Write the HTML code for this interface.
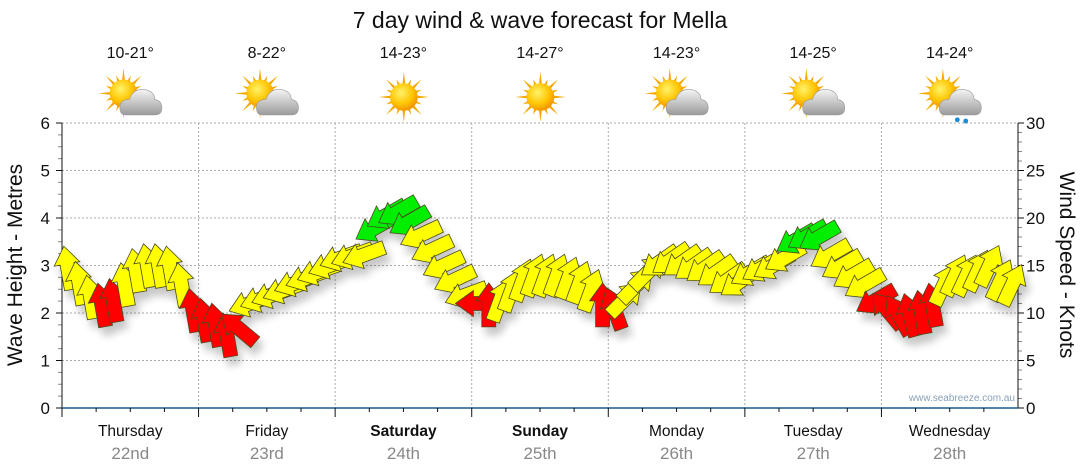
<!DOCTYPE html>
<html><head><meta charset="utf-8"><style>
body{margin:0;background:#fff;}
svg{display:block;font-family:"Liberation Sans",sans-serif;}
</style></head><body>
<svg id="c" width="1080" height="475" viewBox="0 0 1080 475">
<defs>
<filter id="sh" x="-50%" y="-50%" width="200%" height="200%"><feGaussianBlur in="SourceAlpha" stdDeviation="4"/><feOffset dx="4" dy="8"/><feComponentTransfer><feFuncA type="linear" slope="0.22"/></feComponentTransfer><feMerge><feMergeNode/><feMergeNode in="SourceGraphic"/></feMerge></filter>
<radialGradient id="sun" cx="0.4" cy="0.35" r="0.7"><stop offset="0" stop-color="#fff36a"/><stop offset="0.6" stop-color="#ffc400"/><stop offset="1" stop-color="#f08a00"/></radialGradient>
<linearGradient id="cloud" x1="0" y1="0" x2="0" y2="1"><stop offset="0" stop-color="#f4f4f4"/><stop offset="1" stop-color="#9a9a9a"/></linearGradient>
</defs>
<text x="540" y="28" text-anchor="middle" font-size="23" fill="#111">7 day wind &amp; wave forecast for Mella</text>
<g id="grid"></g>
<g id="axes"></g>
<g id="wx"></g>
<g id="marks" filter="url(#sh)"></g>
<text x="1015" y="401" text-anchor="end" font-size="10" fill="#8aa0b8">www.seabreeze.com.au</text>
<text transform="translate(22,265) rotate(-90)" text-anchor="middle" font-size="21" fill="#111">Wave Height - Metres</text>
<text transform="translate(1060,265) rotate(90)" text-anchor="middle" font-size="21" fill="#111">Wind Speed - Knots</text>
</svg>
<script>
const days=["Thursday","Friday","Saturday","Sunday","Monday","Tuesday","Wednesday"];
const dates=["22nd","23rd","24th","25th","26th","27th","28th"];
const temps=["10-21°","8-22°","14-23°","14-27°","14-23°","14-25°","14-24°"];
const icons=["suncloud","suncloud","sun","sun","suncloud","suncloud","rain"];
const waveTicks=[0,1,2,3,4,5,6];
const windTicks=[0,5,10,15,20,25,30];
// 2-hourly wave heights (m)
const heights=[2.95,2.63,2.34,2.17,2.27,2.6,2.9,3.0,3.0,2.95,2.6,2.06,
1.85,1.75,1.54,1.68,2.2,2.3,2.38,2.48,2.63,2.74,2.86,3.0,
3.16,3.2,3.22,3.79,4.06,4.13,3.92,3.64,3.33,3.0,2.7,2.38,
2.2,2.17,2.27,2.48,2.7,2.8,2.8,2.8,2.74,2.65,2.48,2.17,
2.1,2.3,2.59,2.86,3.07,3.12,3.07,3.0,2.95,2.86,2.7,2.65,
2.86,2.95,3.0,3.16,3.54,3.62,3.6,3.22,3.0,2.8,2.6,2.27,
2.06,1.96,1.96,2.02,2.17,2.6,2.8,2.8,2.9,3.0,2.7,2.6];
// arrow direction (deg, 0 = pointing up)
const dirs=[350,350,350,350,350,350,350,350,350,350,350,350,
350,350,350,310,250,250,250,250,250,250,250,250,
250,250,250,240,240,240,240,245,245,245,245,250,
270,0,20,20,20,20,20,20,20,20,20,0,
340,45,45,45,235,235,235,235,235,235,235,235,
240,240,240,240,240,240,240,240,240,240,240,240,
320,330,345,350,350,25,25,25,25,25,25,25];
// colour class: Y yellow, R red, G green
const colours="YYYRRYYYYYYR"+"RRRRYYYYYYYY"+"YYYGGGGYYYYY"+"RRYYYYYYYYYR"+"RYYYYYYYYYYY"+"YYYYGGGYYYYR"+"RRRRRYYYYYYY";
const X0=62,X1=1018,Y0=408,Y1=123,DAY=(X1-X0)/7;
const xs=i=>X0+DAY/24+i*DAY/12;
const ys=h=>Y0-(h/6)*(Y0-Y1);
const yw=k=>Y0-(k/30)*(Y0-Y1);
const NS="http://www.w3.org/2000/svg";
function mk(t,a,p){const e=document.createElementNS(NS,t);for(const k in a)e.setAttribute(k,a[k]);(p||document.getElementById('c')).appendChild(e);return e;}
const grid=document.getElementById('grid'),axes=document.getElementById('axes'),wx=document.getElementById('wx'),marks=document.getElementById('marks');
waveTicks.forEach(v=>{
 if(v>0){const g=mk('line',{x1:X0,x2:X1,y1:ys(v),y2:ys(v),stroke:'#aaa','stroke-dasharray':'2,2'},grid);
 
 }
 const t=mk('text',{x:50,y:ys(v)+6,'text-anchor':'end','font-size':17,fill:'#111'},axes);t.textContent=v;
 
 
 mk('line',{x1:X0-6,x2:X0,y1:ys(v),y2:ys(v),stroke:'#111'},axes);
});
for(let q=0;q<24;q++){if(q%4)mk('line',{x1:X0-4,x2:X0,y1:ys(q/4),y2:ys(q/4),stroke:'#888'},axes);}
windTicks.forEach(v=>{
 const t=mk('text',{x:1026,y:yw(v)+6,'font-size':17,fill:'#111'},axes);t.textContent=v;
 
 
 mk('line',{x1:X1,x2:X1+6,y1:yw(v),y2:yw(v),stroke:'#111'},axes);
});
for(let q=0;q<30;q++){if(q%5)mk('line',{x1:X1,x2:X1+4,y1:yw(q),y2:yw(q),stroke:'#888'},axes);}
mk('line',{x1:X0,x2:X0,y1:Y1,y2:Y0,stroke:'#111'},axes);
mk('line',{x1:X1,x2:X1,y1:Y1,y2:Y0,stroke:'#111'},axes);
mk('line',{x1:X0,x2:X1,y1:Y0,y2:Y0,stroke:'#1a5a8a','stroke-width':1.5},axes);
days.forEach((d,i)=>{
 const xb=X0+i*DAY,xc=xb+DAY/2;
 if(i>0)mk('line',{x1:xb,x2:xb,y1:Y1,y2:Y0,stroke:'#aaa','stroke-dasharray':'2,2'},grid);
 mk('line',{x1:xb,x2:xb,y1:Y0,y2:Y0+9,stroke:'#111'},axes);
 for(let k=1;k<4;k++)mk('line',{x1:xb+k*DAY/4,x2:xb+k*DAY/4,y1:Y0,y2:Y0+4,stroke:'#111'},axes);
 const t=mk('text',{x:xc,y:436,'text-anchor':'middle','font-size':15.5,fill:'#111','font-weight':(i==2||i==3)?'bold':'normal'},axes);t.textContent=d;
 
 
 const t2=mk('text',{x:xc,y:459,'text-anchor':'middle','font-size':17,fill:'#888'},axes);t2.textContent=dates[i];
 
 
 const t3=mk('text',{x:xc,y:58,'text-anchor':'middle','font-size':16,fill:'#111'},wx);t3.textContent=temps[i];
 
 
 const g=mk('g',{transform:`translate(${xc-2},97) scale(1.2)`},wx);
 
 
 const sx=icons[i]=='sun'?2:-4,sy=icons[i]=='sun'?0:-3;
 for(let r=0;r<16;r++){const a=r*Math.PI/8,L=r%2?16:21;
  mk('polygon',{points:`${sx+Math.cos(a-0.13)*10},${sy+Math.sin(a-0.13)*10} ${sx+Math.cos(a)*L},${sy+Math.sin(a)*L} ${sx+Math.cos(a+0.13)*10},${sy+Math.sin(a+0.13)*10}`,fill:'#f5a800'},g);}
 mk('circle',{cx:sx,cy:sy,r:11.5,fill:'url(#sun)'},g);
 if(icons[i]!='sun'){
  mk('path',{d:'M-2,15 Q-7,15 -7,9 Q-7,2 1,2 Q4,-8 15,-6 Q22,-4 22,2 Q28,3 28,9 Q28,15 22,15 Z',fill:'url(#cloud)',stroke:'#999','stroke-width':0.5},g);
 }
 if(icons[i]=='rain'){mk('circle',{cx:8,cy:19,r:2,fill:'#1a8ad8'},g);mk('circle',{cx:15,cy:20,r:2,fill:'#1a8ad8'},g);}
});
const COL={Y:'#ffff00',R:'#ff0000',G:'#00ee00'};
heights.forEach((h,i)=>{
 const p=mk('polygon',{points:'0,-22 13,-4 7,-4 7,22 -7,22 -7,-4 -13,-4',fill:COL[colours[i]],stroke:'#4a4a20','stroke-width':0.8,'stroke-linejoin':'miter',
  transform:`translate(${xs(i).toFixed(1)},${ys(h).toFixed(1)}) rotate(${dirs[i]})`},marks);
 
 
});
</script>
</body></html>
